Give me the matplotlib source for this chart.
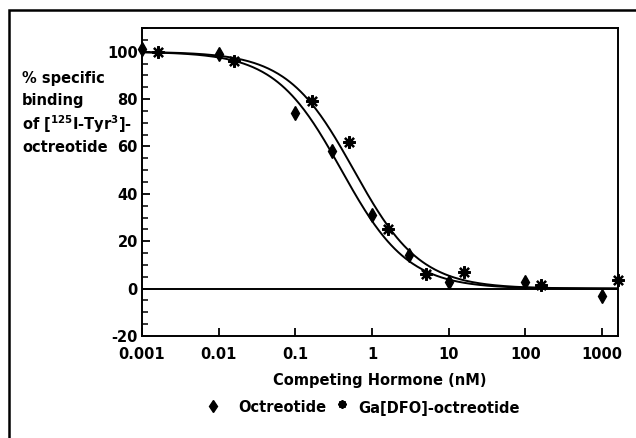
import numpy as np
import matplotlib
matplotlib.use("Agg")
import matplotlib.pyplot as plt
from matplotlib.patches import Rectangle
from matplotlib.ticker import FixedLocator, MultipleLocator

plt.rcParams['font.family'] = ['DejaVu Sans']
plt.rcParams['font.weight'] = 'bold'
plt.rcParams['axes.unicode_minus'] = False
plt.rcParams['mathtext.fontset'] = 'custom'
plt.rcParams['mathtext.rm'] = 'DejaVu Sans:bold'
plt.rcParams['mathtext.default'] = 'rm'

# Octreotide (diamonds)
oct_x = [0.001, 0.01, 0.1, 0.3, 1.0, 3.0, 10.0, 100.0, 1000.0]
oct_y = [101, 99, 74, 58, 31, 14, 3, 3, -3]
# Ga[DFO]-octreotide (asterisks)
ga_x = [0.0016, 0.016, 0.165, 0.5, 1.6, 5.0, 16.0, 160.0, 1600.0]
ga_y = [100, 96, 79, 62, 25, 6, 7, 1.5, 3.5]

# fitted competition-curve parameters (top, bottom, IC50 nM, Hill slope)
oct_fit = (100.0, 0.0, 0.40, 1.0)
ga_fit = (100.0, 0.0, 0.58, 1.0)

xticks = [0.001, 0.01, 0.1, 1, 10, 100, 1000]
xticklabels = ['0.001', '0.01', '0.1', '1', '10', '100', '1000']
yticks = [-20, 0, 20, 40, 60, 80, 100]

fig = plt.figure(figsize=(6.36, 4.38), dpi=100)
W, H = 636, 438
ax = fig.add_axes([142 / W, 1 - 336 / H, (618 - 142) / W, (336 - 28) / H])

def hill(x, p):
    top, bot, ic50, n = p
    return bot + (top - bot) / (1 + (x / ic50) ** n)

xs = np.logspace(-3, np.log10(1600), 400)
ax.plot(xs, hill(xs, oct_fit), color='black', lw=1.4)
ax.plot(xs, hill(xs, ga_fit), color='black', lw=1.4)

ax.plot(oct_x, oct_y, linestyle='none', marker='d', color='black', ms=7, clip_on=False)
ax.plot(ga_x, ga_y, linestyle='none', marker=(8, 2, 0), color='black', ms=9, mew=1.6, clip_on=False)

ax.axhline(0, color='black', lw=1.4)

ax.set_xscale('log')
ax.set_xlim(0.001, 1620)
ax.set_ylim(-20, 110)
ax.xaxis.set_major_locator(FixedLocator(xticks))
ax.xaxis.set_minor_locator(FixedLocator([]))
ax.set_xticklabels(xticklabels)
ax.yaxis.set_major_locator(FixedLocator(yticks))
ax.yaxis.set_minor_locator(MultipleLocator(5))
ax.tick_params(axis='both', which='major', direction='in', length=6, width=1.3, labelsize=10.5)
ax.tick_params(axis='y', which='minor', direction='in', length=4, width=1.1)
ax.tick_params(axis='x', which='major', pad=8)
ax.tick_params(axis='y', which='major', pad=3)
for s in ax.spines.values():
    s.set_linewidth(1.4)

ax.set_xlabel('Competing Hormone (nM)', fontsize=10.5, fontweight='bold', labelpad=8)

ylines = ['% specific', 'binding', 'of [$^{125}$I-Tyr$^{3}$]-', 'octreotide']
ypos = [78, 101, 124, 147]
for t, yp in zip(ylines, ypos):
    fig.text(22 / W, 1 - yp / H, t, fontsize=10.5, fontweight='bold', va='center', ha='left')

# legend row
fig.lines.append(plt.Line2D([213 / W], [1 - 406 / H], marker='d', color='black', ms=6,
                            linestyle='none', transform=fig.transFigure))
fig.text(238 / W, 1 - 408 / H, 'Octreotide', fontsize=10.5, fontweight='bold', va='center', ha='left')
fig.lines.append(plt.Line2D([342 / W], [1 - 404 / H], marker=(8, 2, 0), color='black', ms=6, mew=1.4,
                            linestyle='none', transform=fig.transFigure))
fig.text(358 / W, 1 - 408 / H, 'Ga[DFO]-octreotide', fontsize=10.5, fontweight='bold', va='center', ha='left')

# outer frame
fig.patches.append(Rectangle((9 / W, -0.1), 1.2, 1 - 10 / H + 0.1, transform=fig.transFigure,
                             fill=False, lw=1.8, edgecolor='black'))

fig.savefig('out.png', dpi=100)
